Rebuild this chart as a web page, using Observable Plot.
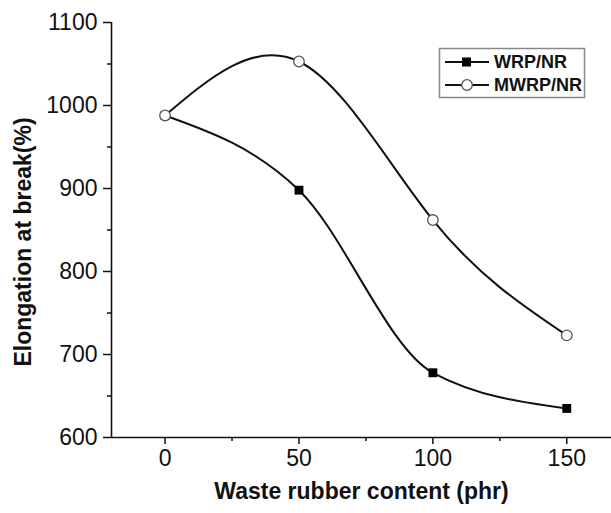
<!DOCTYPE html>
<html>
<head>
<meta charset="utf-8">
<script src="https://cdn.jsdelivr.net/npm/d3@7"></script>
<script src="https://cdn.jsdelivr.net/npm/@observablehq/plot@0.6"></script>
<style>
  html, body { margin: 0; padding: 0; background: #fff; }
  #chart { position: relative; width: 611px; height: 513px; }
</style>
</head>
<body>
<div id="chart"></div>
<script>
// Data
const content = [0, 50, 100, 150];
const wrpValues = [988, 898, 678, 635];
const mwrpValues = [988, 1053, 862, 723];
const seriesNames = ["WRP/NR", "MWRP/NR"];
const xTicks = [0, 50, 100, 150];
const xMinorTicks = [25, 75, 125];
const yTicks = [600, 700, 800, 900, 1000, 1100];
const yMinorTicks = [650, 750, 850, 950, 1050];
const xTitle = "Waste rubber content (phr)";
const yTitle = "Elongation at break(%)";

const xDomain = [-20, 166.7];
const yDomain = [600, 1100];

const wrp = content.map((c, i) => ({x: c, y: wrpValues[i]}));
const mwrp = content.map((c, i) => ({x: c, y: mwrpValues[i]}));

const font = "'Liberation Sans', Arial, Helvetica, sans-serif";

const chart = Plot.plot({
  width: 611,
  height: 513,
  marginLeft: 111,
  marginRight: 0,
  marginTop: 22,
  marginBottom: 76,
  style: {fontFamily: font, background: "#fff", color: "#111"},
  x: {domain: xDomain},
  y: {domain: yDomain},
  marks: [
    Plot.axisX(xTicks, {tickSize: 7, tickPadding: 5, fontSize: 23, tickFormat: "d", label: null, strokeWidth: 1.5, stroke: "#111", fill: "#111"}),
    Plot.axisX(xMinorTicks, {tickSize: 4, text: null, label: null, strokeWidth: 1.5, stroke: "#111"}),
    Plot.axisY(yTicks, {tickSize: 8, tickPadding: 6, fontSize: 23, tickFormat: "d", label: null, strokeWidth: 1.5, stroke: "#111", fill: "#111"}),
    Plot.axisY(yMinorTicks, {tickSize: 4, text: null, label: null, strokeWidth: 1.5, stroke: "#111"}),
    Plot.ruleY([yDomain[0]], {stroke: "#111", strokeWidth: 1.6}),
    Plot.ruleX([xDomain[0]], {stroke: "#111", strokeWidth: 1.6}),
    Plot.text([xTitle], {frameAnchor: "bottom", dy: 61, textAnchor: "middle", fontSize: 23, fontWeight: "bold", fill: "#111"}),
    Plot.text([yTitle], {frameAnchor: "left", dx: -88, dy: 12, textAnchor: "middle", rotate: -90, fontSize: 23, fontWeight: "bold", fill: "#111"}),
    Plot.line(wrp, {x: "x", y: "y", curve: "monotone-x", stroke: "#111", strokeWidth: 2}),
    Plot.dot(wrp, {x: "x", y: "y", symbol: "square", r: 5, fill: "#000", stroke: "none"}),
    Plot.line(mwrp, {x: "x", y: "y", curve: "natural", stroke: "#111", strokeWidth: 2}),
    Plot.dot(mwrp, {x: "x", y: "y", symbol: "circle", r: 5.3, fill: "#fff", stroke: "#555", strokeWidth: 1.3})
  ]
});

document.getElementById("chart").appendChild(chart);

// Legend drawn inside the SVG
const svg = d3.select(chart);
const lg = svg.append("g").attr("font-family", font).attr("text-anchor", "start");
lg.append("rect").attr("x", 439.5).attr("y", 48.5).attr("width", 145).attr("height", 49)
  .attr("fill", "#fff").attr("stroke", "#888").attr("stroke-width", 1.5);
seriesNames.forEach((name, i) => {
  const cy = 62 + i * 23;
  lg.append("line").attr("x1", 445).attr("x2", 489).attr("y1", cy).attr("y2", cy)
    .attr("stroke", "#111").attr("stroke-width", 2);
  if (i === 0) {
    lg.append("rect").attr("x", 462).attr("y", cy - 4.5).attr("width", 9).attr("height", 9).attr("fill", "#000");
  } else {
    lg.append("circle").attr("cx", 467).attr("cy", cy).attr("r", 5.3).attr("fill", "#fff").attr("stroke", "#555").attr("stroke-width", 1.3);
  }
  lg.append("text").attr("x", 494).attr("y", cy).attr("dy", "0.36em")
    .attr("text-anchor", "start")
    .attr("font-size", 18).attr("font-weight", "bold").attr("fill", "#111").text(name);
});
</script>
</body>
</html>
